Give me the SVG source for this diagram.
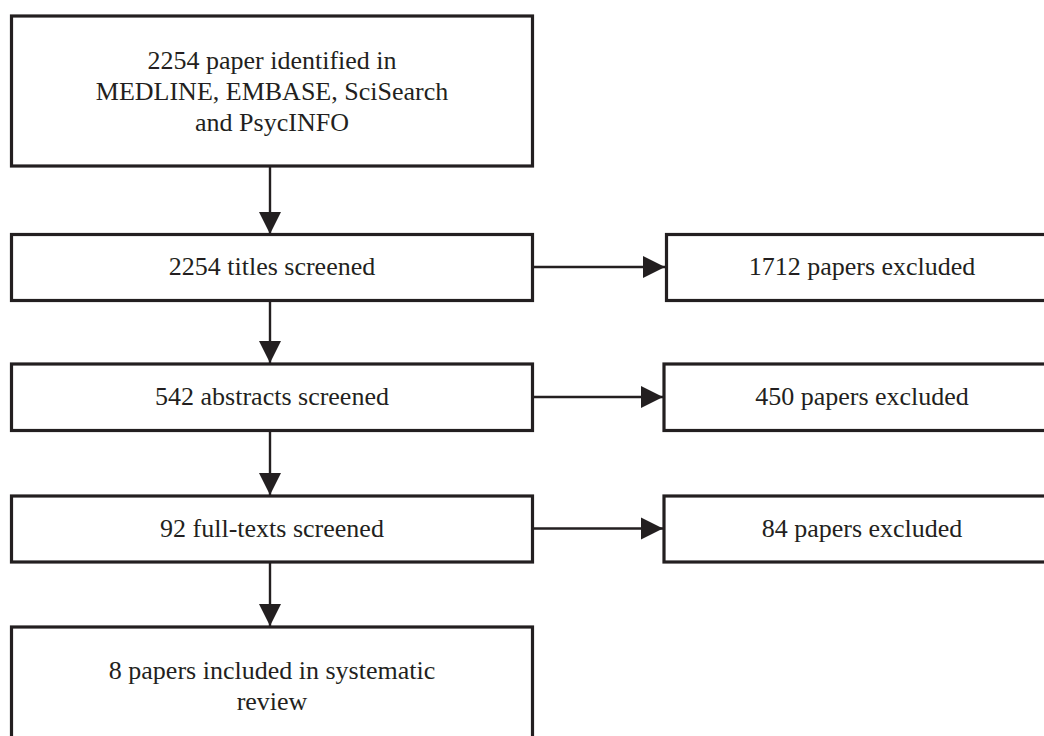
<svg xmlns="http://www.w3.org/2000/svg" width="1044" height="736" viewBox="0 0 1044 736">
<style>
.box{fill:#ffffff;stroke:#231f20;stroke-width:3.2}
.lbl{font-family:"Liberation Serif","Times New Roman",serif;font-size:26px;fill:#231f20;text-anchor:middle}
.con{stroke:#231f20;stroke-width:2.4;fill:none}
</style>
<defs>
<marker id="ah" markerUnits="userSpaceOnUse" markerWidth="23" markerHeight="23" refX="22" refY="11" orient="auto" viewBox="0 0 23 22">
<path d="M0,0 L22,11 L0,22 Z" fill="#231f20"/>
</marker>
</defs>
<rect width="1044" height="736" fill="#ffffff"/>
<g id="connectors">
<line class="con" x1="270" y1="167" x2="270" y2="234" marker-end="url(#ah)"/>
<line class="con" x1="270" y1="301" x2="270" y2="363" marker-end="url(#ah)"/>
<line class="con" x1="270" y1="432" x2="270" y2="495" marker-end="url(#ah)"/>
<line class="con" x1="270" y1="563" x2="270" y2="626" marker-end="url(#ah)"/>
<line class="con" x1="533" y1="267" x2="665" y2="267" marker-end="url(#ah)"/>
<line class="con" x1="533" y1="397" x2="663" y2="397" marker-end="url(#ah)"/>
<line class="con" x1="533" y1="528.5" x2="663" y2="528.5" marker-end="url(#ah)"/>
</g>
<g id="n1">
<rect class="box" x="11.5" y="16" width="521" height="150"/>
<text class="lbl" x="272" y="69">2254 paper identified in</text>
<text class="lbl" x="272" y="100">MEDLINE, EMBASE, SciSearch</text>
<text class="lbl" x="272" y="131">and PsycINFO</text>
</g>
<g id="n2">
<rect class="box" x="11.5" y="234.5" width="521" height="66"/>
<text class="lbl" x="272" y="275">2254 titles screened</text>
</g>
<g id="n3">
<rect class="box" x="11.5" y="364" width="521" height="66.5"/>
<text class="lbl" x="272" y="405">542 abstracts screened</text>
</g>
<g id="n4">
<rect class="box" x="11.5" y="496" width="521" height="66"/>
<text class="lbl" x="272" y="537">92 full-texts screened</text>
</g>
<g id="n5">
<rect class="box" x="11.5" y="627" width="521" height="130"/>
<text class="lbl" x="272" y="679">8 papers included in systematic</text>
<text class="lbl" x="272" y="710">review</text>
</g>
<g id="e1">
<rect class="box" x="666.5" y="234.5" width="400" height="66"/>
<text class="lbl" x="862" y="275">1712 papers excluded</text>
</g>
<g id="e2">
<rect class="box" x="664" y="364" width="400" height="66.5"/>
<text class="lbl" x="862" y="405">450 papers excluded</text>
</g>
<g id="e3">
<rect class="box" x="664" y="496" width="400" height="66"/>
<text class="lbl" x="862" y="537">84 papers excluded</text>
</g>
</svg>
